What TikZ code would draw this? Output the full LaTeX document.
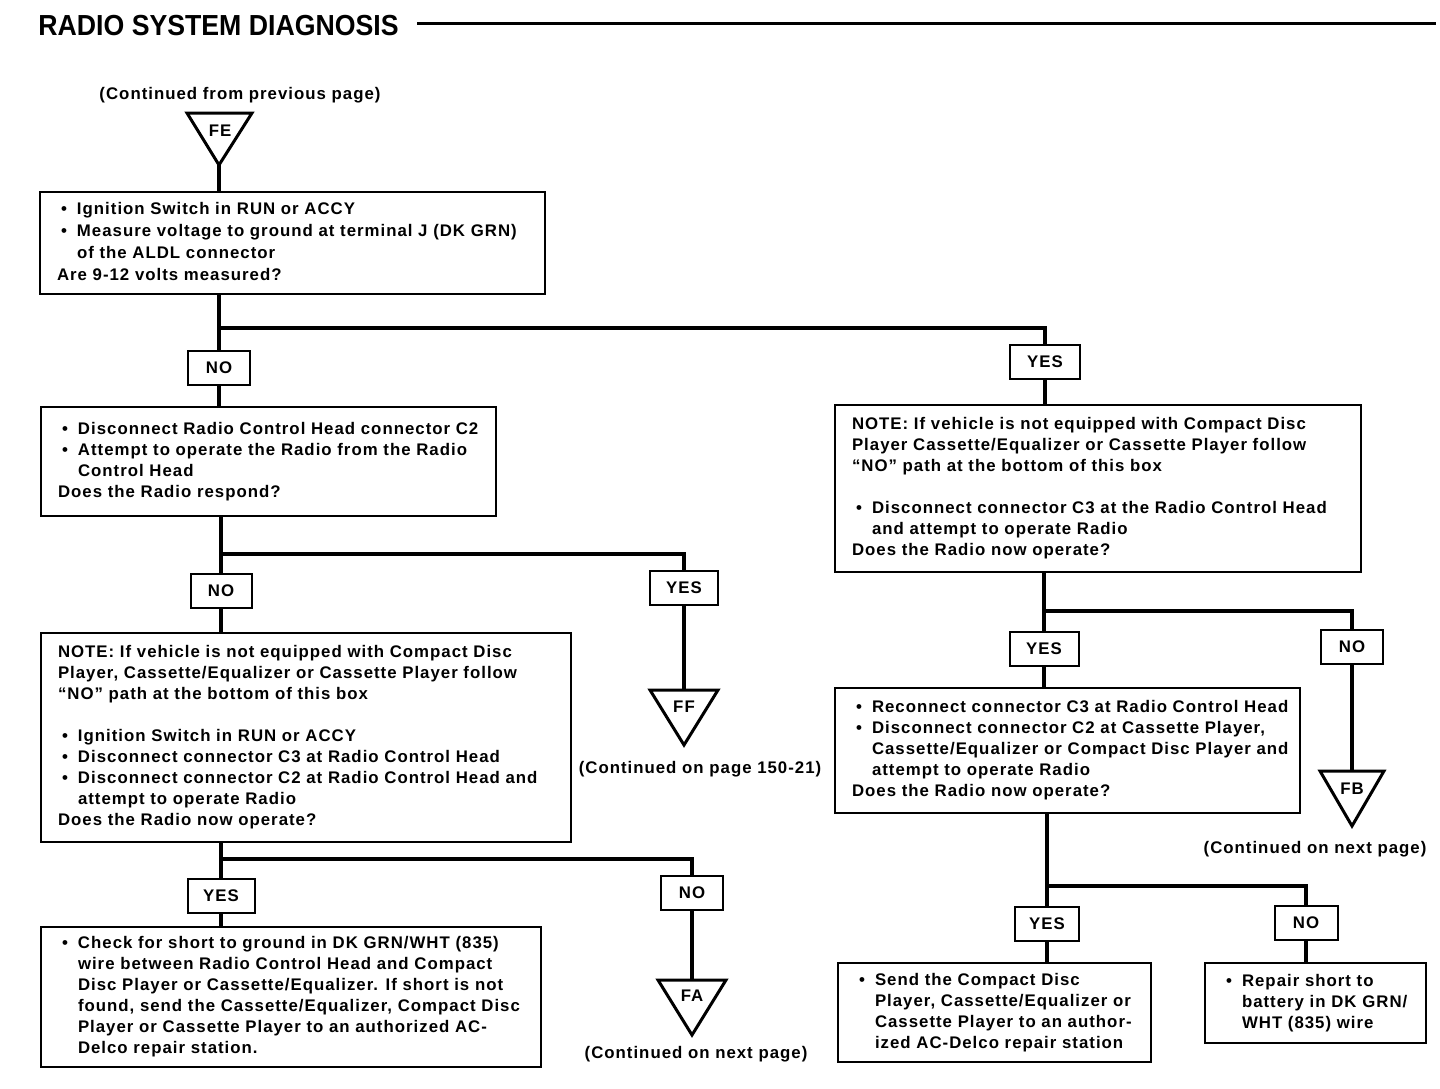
\documentclass[tikz,border=0pt]{standalone}
\usepackage{fontspec}
\newfontfamily\bodyfont[LetterSpace=6]{Liberation Sans}
\newfontfamily\titlefont[FakeStretch=0.92]{Liberation Sans}
\newcommand\myb{\hspace*{2pt}\makebox[8pt][l]{\textbullet}}
\newcommand\myi{\hspace*{10pt}}
\newcommand\bx[2]{\makebox[#1][l]{\begin{tabular}{@{}l@{}}#2\end{tabular}}}
\begin{document}
\begin{tikzpicture}[x=0.5pt,y=-0.5pt,
  every node/.style={font=\bodyfont\bfseries\fontsize{8.4}{10.5}\selectfont},
  tbox/.style={draw, line width=1pt, inner xsep=8.5pt, inner ysep=0pt},
  lab/.style={draw, line width=1pt, inner sep=0pt, minimum height=17pt},
  conn/.style={line width=1.75pt},
  tri/.style={line width=1.5pt, line join=miter}]
\useasboundingbox (0,0) rectangle (1440,1088);

% title
\node[anchor=base west, inner sep=0pt, font=\titlefont\bfseries\fontsize{14.5}{16}\selectfont] (title) at (38,35) {RADIO SYSTEM DIAGNOSIS};
\coordinate (ruleA) at (417,23);
\coordinate (ruleB) at (1436,23);
\draw[line width=1.5pt] (ruleA) -- (ruleB);

% start
\node (cont0) at (240,95) {(Continued from previous page)};
\draw[tri] (187,113) -- (252,113) -- (219,165) -- cycle;
\node (FE) at (220,131) {FE};
\coordinate (FEtip) at (219,165);

% left column
\node[tbox, minimum height=51pt] (b1) at (292.5,243) {\bx{235.5pt}{%
\myb Ignition Switch in RUN or ACCY\\[0.5pt]
\myb Measure voltage to ground at terminal J (DK GRN)\\[0.5pt]
\myi of the ALDL connector\\[0.5pt]
Are 9-12 volts measured?}};

\node[lab, minimum width=31pt] (n1) at (219,368) {NO};
\node[lab, minimum width=35pt] (y1) at (1045,362) {YES};

\node[tbox, minimum height=54.5pt] (b2) at (268.5,461.5) {\bx{210.5pt}{%
\myb Disconnect Radio Control Head connector C2\\
\myb Attempt to operate the Radio from the Radio\\
\myi Control Head\\
Does the Radio respond?}};

\node[lab, minimum width=30.5pt] (n2) at (221,591) {NO};
\node[lab, minimum width=34pt] (y2) at (684,588) {YES};

\draw[tri] (650,690) -- (718,690) -- (684,745) -- cycle;
\node (FF) at (684,707) {FF};
\coordinate (FFtop) at (684,690);
\node (cont1) at (700,769) {(Continued on page 150-21)};

\node[tbox, minimum height=104.5pt] (b3) at (306,737.5) {\bx{248pt}{%
NOTE: If vehicle is not equipped with Compact Disc\\
Player, Cassette/Equalizer or Cassette Player follow\\
“NO” path at the bottom of this box\\[10.5pt]
\myb Ignition Switch in RUN or ACCY\\
\myb Disconnect connector C3 at Radio Control Head\\
\myb Disconnect connector C2 at Radio Control Head and\\
\myi attempt to operate Radio\\
Does the Radio now operate?}};

\node[lab, minimum width=33.5pt] (y3) at (221,896) {YES};
\node[lab, minimum width=31pt] (n3) at (692,893) {NO};

\draw[tri] (658,980) -- (726,980) -- (692,1035) -- cycle;
\node (FA) at (692,996) {FA};
\coordinate (FAtop) at (692,980);
\node (cont2) at (696,1054) {(Continued on next page)};

\node[tbox, minimum height=70pt] (b4) at (291,997) {\bx{233pt}{%
\myb Check for short to ground in DK GRN/WHT (835)\\
\myi wire between Radio Control Head and Compact\\
\myi Disc Player or Cassette/Equalizer. If short is not\\
\myi found, send the Cassette/Equalizer, Compact Disc\\
\myi Player or Cassette Player to an authorized AC-\\
\myi Delco repair station.}};

% right column
\node[tbox, minimum height=83.5pt] (r1) at (1098,488.5) {\bx{246pt}{%
NOTE: If vehicle is not equipped with Compact Disc\\
Player Cassette/Equalizer or Cassette Player follow\\
“NO” path at the bottom of this box\\[10.5pt]
\myb Disconnect connector C3 at the Radio Control Head\\
\myi and attempt to operate Radio\\
Does the Radio now operate?}};

\node[lab, minimum width=34.5pt] (yR2) at (1044,649) {YES};
\node[lab, minimum width=31pt] (nR2) at (1352,647) {NO};

\draw[tri] (1320,771) -- (1384,771) -- (1352,826) -- cycle;
\node (FB) at (1352,789) {FB};
\coordinate (FBtop) at (1352,771);
\node (cont3) at (1315,849) {(Continued on next page)};

\node[tbox, minimum height=62.5pt] (r2) at (1067.5,750.5) {\bx{215.5pt}{%
\myb Reconnect connector C3 at Radio Control Head\\
\myb Disconnect connector C2 at Cassette Player,\\
\myi Cassette/Equalizer or Compact Disc Player and\\
\myi attempt to operate Radio\\
Does the Radio now operate?}};

\node[lab, minimum width=32pt] (yR3) at (1047,924) {YES};
\node[lab, minimum width=31.5pt] (nR3) at (1306,923) {NO};

\node[tbox, minimum height=49.5pt] (r3) at (994.5,1012.5) {\bx{139.5pt}{%
\myb Send the Compact Disc\\
\myi Player, Cassette/Equalizer or\\
\myi Cassette Player to an author-\\
\myi ized AC-Delco repair station}};

\node[tbox, minimum height=40pt] (r4) at (1315.5,1003) {\bx{93.5pt}{%
\myb Repair short to\\
\myi battery in DK GRN/\\
\myi WHT (835) wire}};

% junctions
\coordinate (j1) at (219,328);
\coordinate (j2) at (221,554);
\coordinate (j3) at (221,859);
\coordinate (jR1) at (1044,611);
\coordinate (jR2) at (1047,886);

% connectors
\draw[conn] (FEtip) -- (FEtip |- b1.north);
\draw[conn] (n1.north |- b1.south) -- (n1.north);
\draw[conn] (j1) -| (y1.north);
\draw[conn] (n1.south) -- (n1.south |- b2.north);
\draw[conn] (y1.south) -- (y1.south |- r1.north);
\draw[conn] (n2.north |- b2.south) -- (n2.north);
\draw[conn] (j2) -| (y2.north);
\draw[conn] (n2.south) -- (n2.south |- b3.north);
\draw[conn] (y2.south) -- (FFtop);
\draw[conn] (y3.north |- b3.south) -- (y3.north);
\draw[conn] (j3) -| (n3.north);
\draw[conn] (y3.south) -- (y3.south |- b4.north);
\draw[conn] (n3.south) -- (FAtop);
\draw[conn] (yR2.north |- r1.south) -- (yR2.north);
\draw[conn] (jR1) -| (nR2.north);
\draw[conn] (yR2.south) -- (yR2.south |- r2.north);
\draw[conn] (nR2.south) -- (FBtop);
\draw[conn] (yR3.north |- r2.south) -- (yR3.north);
\draw[conn] (jR2) -| (nR3.north);
\draw[conn] (yR3.south) -- (yR3.south |- r3.north);
\draw[conn] (nR3.south) -- (nR3.south |- r4.north);
\end{tikzpicture}
\end{document}
